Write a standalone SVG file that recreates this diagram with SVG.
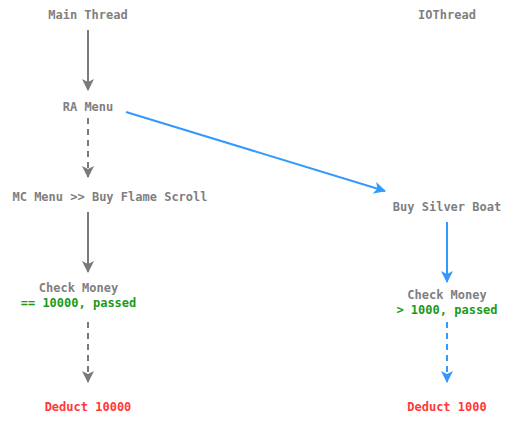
<svg xmlns="http://www.w3.org/2000/svg" width="512" height="422" viewBox="0 0 512 422">
<style>
text{font-family:"DejaVu Sans Mono","Liberation Mono",monospace;font-size:12px;font-weight:bold;text-anchor:middle}
.n{fill:#7f7f7f}.g{fill:#1a9a1a}.r{fill:#ff3838}
.c{fill:none;stroke-width:2}
.gr{stroke:#7a7a7a}.bl{stroke:#3399ff}
.d{stroke-dasharray:6 5}
</style>
<defs>
<marker id="ag" viewBox="0 0 12 12" refX="11" refY="6" markerWidth="12" markerHeight="12" markerUnits="userSpaceOnUse" orient="auto"><path d="M0,0 L12,6 L0,12 L3,6 Z" fill="#7a7a7a"/></marker>
<marker id="ab" viewBox="0 0 12 12" refX="11" refY="6" markerWidth="12" markerHeight="12" markerUnits="userSpaceOnUse" orient="auto"><path d="M0,0 L12,6 L0,12 L3,6 Z" fill="#3399ff"/></marker>
</defs>
<rect width="512" height="422" fill="#fff"/>
<g id="connectors">
<line class="c gr" x1="88" y1="30" x2="88" y2="90" marker-end="url(#ag)"/>
<line class="c gr d" x1="88" y1="118" x2="88" y2="177" marker-end="url(#ag)"/>
<line class="c gr" x1="88" y1="212" x2="88" y2="272" marker-end="url(#ag)"/>
<line class="c gr d" x1="88" y1="322" x2="88" y2="382" marker-end="url(#ag)"/>
<line class="c bl" x1="126" y1="112" x2="385" y2="191" marker-end="url(#ab)"/>
<line class="c bl" x1="447" y1="222" x2="447" y2="282" marker-end="url(#ab)"/>
<line class="c bl d" x1="447" y1="322" x2="447" y2="382" marker-end="url(#ab)"/>
</g>
<g id="main-thread"><text class="n" x="88" y="19">Main Thread</text></g>
<g id="io-thread"><text class="n" x="447" y="19">IOThread</text></g>
<g id="ra-menu"><text class="n" x="88" y="111">RA Menu</text></g>
<g id="mc-menu"><text class="n" x="110" y="201">MC Menu &gt;&gt; Buy Flame Scroll</text></g>
<g id="buy-silver-boat"><text class="n" x="447" y="211">Buy Silver Boat</text></g>
<g id="check-money-main"><text class="n" x="78.5" y="292">Check Money</text><text class="g" x="78.5" y="307">== 10000, passed</text></g>
<g id="check-money-io"><text class="n" x="447" y="299">Check Money</text><text class="g" x="447" y="314">&gt; 1000, passed</text></g>
<g id="deduct-main"><text class="r" x="88" y="411">Deduct 10000</text></g>
<g id="deduct-io"><text class="r" x="447" y="411">Deduct 1000</text></g>
</svg>
